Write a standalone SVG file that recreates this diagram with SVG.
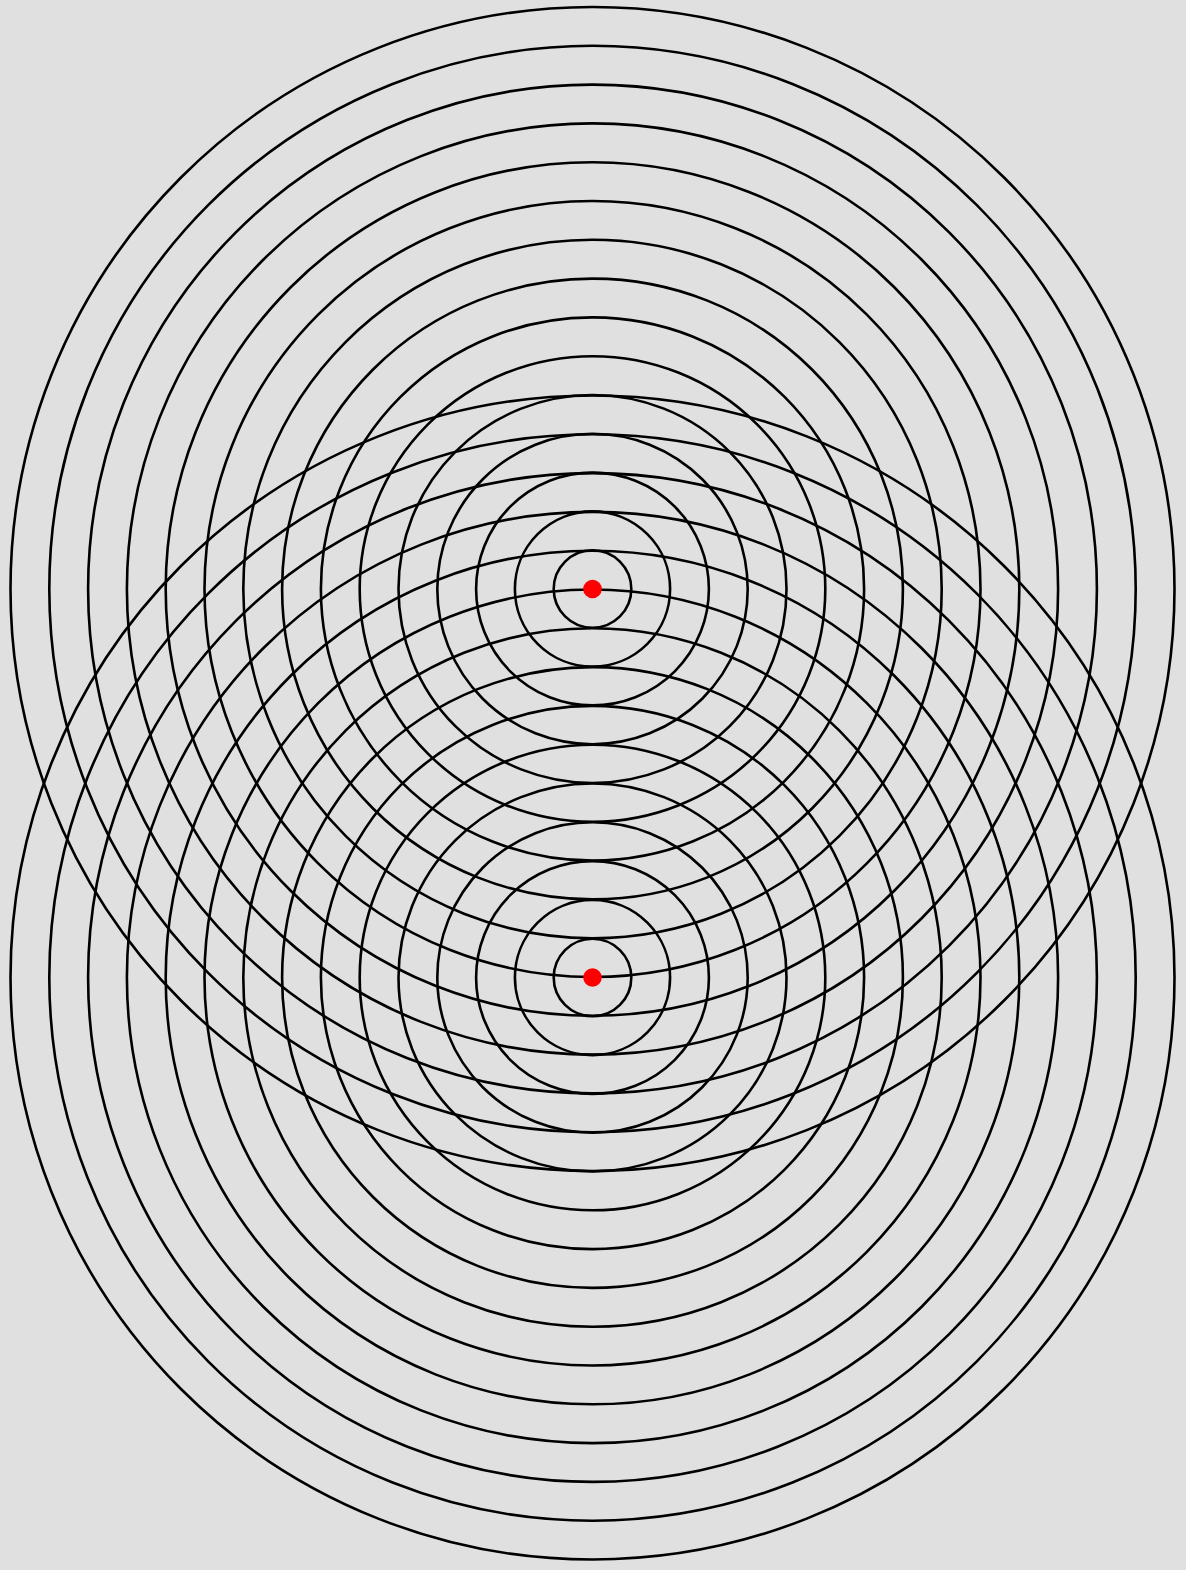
<svg xmlns="http://www.w3.org/2000/svg" width="1186" height="1570" viewBox="0 0 1186 1570">
<style>
.r{fill:none;stroke:#000;stroke-width:2.6}
.d{fill:#ff0000}
</style>
<rect width="1186" height="1570" fill="#e0e0e0"/>
<g id="source-top">
<circle class="r" cx="592.5" cy="589" r="38.8"/>
<circle class="r" cx="592.5" cy="589" r="77.6"/>
<circle class="r" cx="592.5" cy="589" r="116.4"/>
<circle class="r" cx="592.5" cy="589" r="155.2"/>
<circle class="r" cx="592.5" cy="589" r="194"/>
<circle class="r" cx="592.5" cy="589" r="232.8"/>
<circle class="r" cx="592.5" cy="589" r="271.6"/>
<circle class="r" cx="592.5" cy="589" r="310.4"/>
<circle class="r" cx="592.5" cy="589" r="349.2"/>
<circle class="r" cx="592.5" cy="589" r="388"/>
<circle class="r" cx="592.5" cy="589" r="426.8"/>
<circle class="r" cx="592.5" cy="589" r="465.6"/>
<circle class="r" cx="592.5" cy="589" r="504.4"/>
<circle class="r" cx="592.5" cy="589" r="543.2"/>
<circle class="r" cx="592.5" cy="589" r="582"/>
</g>
<g id="source-bottom">
<circle class="r" cx="592.5" cy="977.5" r="38.8"/>
<circle class="r" cx="592.5" cy="977.5" r="77.6"/>
<circle class="r" cx="592.5" cy="977.5" r="116.4"/>
<circle class="r" cx="592.5" cy="977.5" r="155.2"/>
<circle class="r" cx="592.5" cy="977.5" r="194"/>
<circle class="r" cx="592.5" cy="977.5" r="232.8"/>
<circle class="r" cx="592.5" cy="977.5" r="271.6"/>
<circle class="r" cx="592.5" cy="977.5" r="310.4"/>
<circle class="r" cx="592.5" cy="977.5" r="349.2"/>
<circle class="r" cx="592.5" cy="977.5" r="388"/>
<circle class="r" cx="592.5" cy="977.5" r="426.8"/>
<circle class="r" cx="592.5" cy="977.5" r="465.6"/>
<circle class="r" cx="592.5" cy="977.5" r="504.4"/>
<circle class="r" cx="592.5" cy="977.5" r="543.2"/>
<circle class="r" cx="592.5" cy="977.5" r="582"/>
</g>
<g id="dots">
<circle class="d" cx="592.5" cy="589" r="9.3"/>
<circle class="d" cx="592.5" cy="977.5" r="9.3"/>
</g>
</svg>
